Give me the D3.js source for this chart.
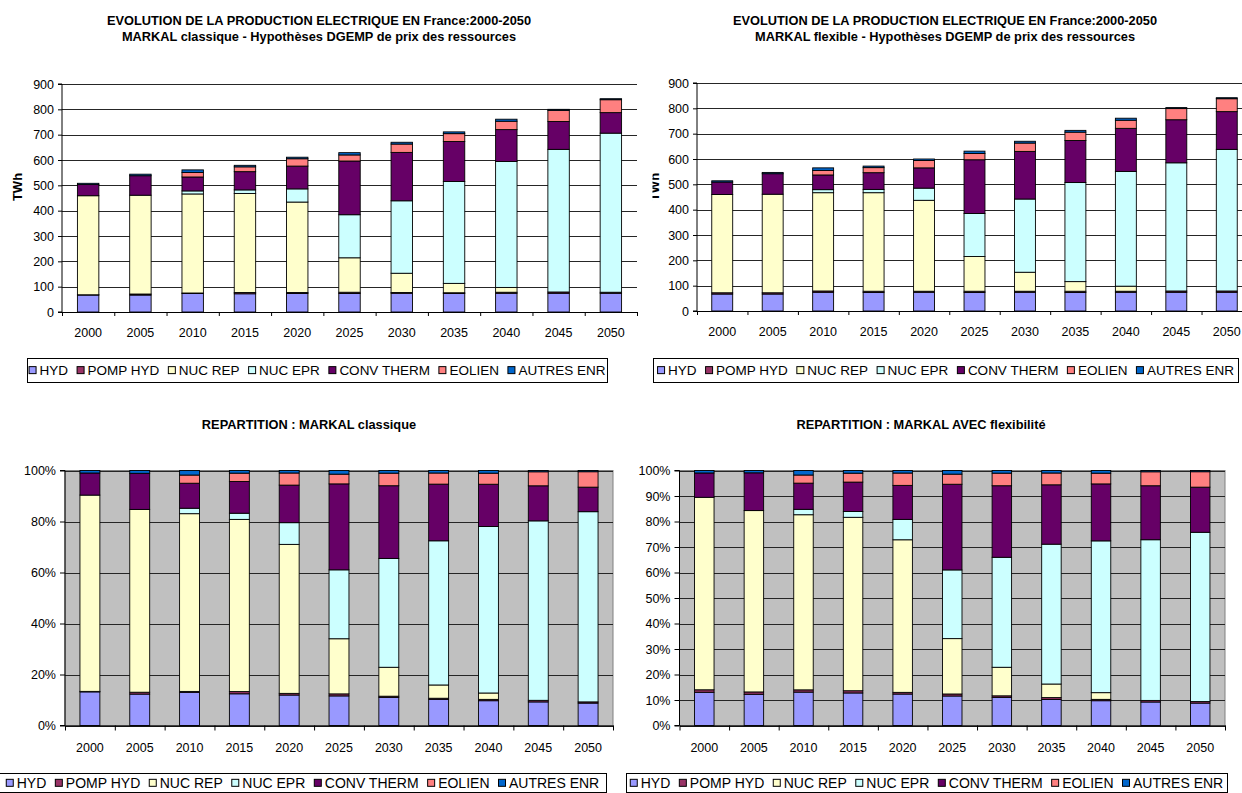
<!DOCTYPE html>
<html><head><meta charset="utf-8">
<script src="https://cdn.jsdelivr.net/npm/d3@7"></script>
<style>
body{margin:0;background:#fff}
svg{display:block}
text{font-family:"Liberation Sans",Arial,sans-serif;fill:#000}
</style>
</head><body>
<svg id="c" width="1242" height="793"></svg>
<script>
// ---------- DATA ----------
const years = ["2000","2005","2010","2015","2020","2025","2030","2035","2040","2045","2050"];
const seriesNames = ["HYD","POMP HYD","NUC REP","NUC EPR","CONV THERM","EOLIEN","AUTRES ENR"];
const seriesColors = ["#9999FF","#993366","#FFFFCC","#CCFFFF","#660066","#FF8080","#0066CC"];

// MARKAL classique (TWh)
const classiqueHYD    = [67, 67, 73, 72, 73, 73, 74, 73, 74, 74, 74];
const classiquePOMP   = [1, 4, 2, 5, 4, 5, 3, 3, 4, 5, 4];
const classiqueNUCREP = [391, 390, 391, 391, 357, 136, 76, 37, 19, 0, 0];
const classiqueNUCEPR = [0, 0, 12, 14, 52, 170, 286, 402, 497, 563, 628];
const classiqueCONV   = [44, 77, 55, 72, 90, 212, 191, 158, 126, 110, 81];
const classiqueEOL    = [0, 0, 18, 19, 29, 24, 33, 31, 33, 44, 51];
const classiqueAUTRES = [5, 6, 10, 6, 6, 9, 7, 7, 8, 4, 4];

// MARKAL flexible (TWh)
const flexibleHYD    = [67, 67, 74, 73, 74, 73, 74, 73, 74, 74, 74];
const flexiblePOMP   = [5, 5, 5, 5, 4, 5, 4, 5, 4, 5, 5];
const flexibleNUCREP = [388, 389, 388, 389, 359, 137, 75, 38, 20, 0, 0];
const flexibleNUCEPR = [0, 0, 12, 13, 48, 170, 289, 391, 453, 506, 559];
const flexibleCONV   = [49, 81, 58, 66, 80, 212, 188, 166, 170, 170, 149];
const flexibleEOL    = [0, 0, 18, 20, 29, 25, 33, 33, 32, 44, 51];
const flexibleAUTRES = [5, 5, 10, 6, 6, 9, 7, 7, 8, 4, 4];

const twhTicks = [0,100,200,300,400,500,600,700,800,900];
const pctTicks20 = [0,0.2,0.4,0.6,0.8,1];
const pctTicks10 = [0,0.1,0.2,0.3,0.4,0.5,0.6,0.7,0.8,0.9,1];

function buildTable(cols){
  return years.map((y,i)=>{
    const row = {year:y};
    seriesNames.forEach((s,j)=>{ row[s] = cols[j][i]; });
    return row;
  });
}
const tableClassique = buildTable([classiqueHYD,classiquePOMP,classiqueNUCREP,classiqueNUCEPR,classiqueCONV,classiqueEOL,classiqueAUTRES]);
const tableFlexible  = buildTable([flexibleHYD,flexiblePOMP,flexibleNUCREP,flexibleNUCEPR,flexibleCONV,flexibleEOL,flexibleAUTRES]);

// ---------- DRAW ----------
const svg = d3.select("#c");
const defs = svg.append("defs");
defs.append("clipPath").attr("id","clipTR").append("rect")
  .attr("x",652.5).attr("y",0).attr("width",600).attr("height",793);

function drawChart(g, o){
  const x = d3.scaleBand().domain(years).range([o.x0,o.x1]).paddingInner(o.pad).paddingOuter(o.pad/2);
  const y = d3.scaleLinear().domain(o.domain).range([o.yb,o.yt]);
  const stack = d3.stack().keys(seriesNames);
  if(o.percent) stack.offset(d3.stackOffsetExpand);
  const layers = stack(o.data);

  if(o.gray){
    g.append("rect").attr("x",o.x0).attr("y",o.yt).attr("width",o.x1-o.x0).attr("height",o.yb-o.yt)
      .attr("fill","#C0C0C0").attr("stroke","#808080").attr("stroke-width",1);
  }
  // gridlines
  g.append("g").attr("transform",`translate(${o.x0},0)`)
    .call(d3.axisLeft(y).tickValues(o.ticks).tickSize(-(o.x1-o.x0)).tickFormat(""))
    .call(a=>a.select(".domain").remove())
    .call(a=>a.selectAll("line").attr("stroke","#262626").attr("shape-rendering","crispEdges"));

  // bars
  g.append("g").selectAll("g").data(layers).join("g")
    .attr("fill",(d,i)=>seriesColors[i])
    .selectAll("rect").data(d=>d).join("rect")
    .attr("x",d=>x(d.data.year))
    .attr("width",x.bandwidth())
    .attr("y",d=>y(d[1]))
    .attr("height",d=>Math.max(0,y(d[0])-y(d[1])))
    .attr("stroke","#000").attr("stroke-width",0.9);

  // y axis
  g.append("g").attr("transform",`translate(${o.x0},0)`)
    .call(d3.axisLeft(y).tickValues(o.ticks).tickSize(o.tick).tickPadding(o.tickPad).tickFormat(o.fmt))
    .call(a=>a.select(".domain").attr("stroke","#000").attr("d",`M${-o.tick},${o.yb}H0V${o.yt}H${-o.tick}`))
    .call(a=>a.selectAll("line").attr("stroke","#000"))
    .call(a=>a.selectAll("text").attr("font-size",o.fs).attr("font-family",'"Liberation Sans",Arial,sans-serif'));

  // x axis: boundary ticks
  const xi = d3.scaleLinear().domain([0,years.length]).range([o.x0,o.x1]);
  g.append("g").attr("transform",`translate(0,${o.yb})`)
    .call(d3.axisBottom(xi).tickValues(d3.range(years.length+1)).tickSize(o.tick).tickSizeOuter(0).tickFormat(""))
    .call(a=>a.selectAll("line,path").attr("stroke","#000"));
  // x labels
  g.append("g").attr("transform",`translate(0,${o.yb})`)
    .call(d3.axisBottom(x).tickSize(0).tickPadding(o.xPad))
    .call(a=>a.select(".domain").remove())
    .call(a=>a.selectAll("text").attr("font-size",o.fs).attr("font-family",'"Liberation Sans",Arial,sans-serif'));

  if(o.ylabel){
    g.append("text").attr("transform",`translate(${o.ylabelX},${o.ylabelY}) rotate(-90)`)
      .attr("text-anchor","middle").attr("dy","0.35em").attr("font-weight","bold").attr("font-size",13)
      .text(o.ylabel);
  }
}

function drawTitle(lines, cx, ys, fs){
  lines.forEach((t,i)=>{
    svg.append("text").attr("x",cx).attr("y",ys[i]).attr("text-anchor","middle")
      .attr("font-weight","bold").attr("font-size",fs).text(t);
  });
}

function drawLegend(box, fs, baseline){
  const g = svg.append("g");
  g.append("rect").attr("x",box.x+0.5).attr("y",box.y+0.5).attr("width",box.w).attr("height",box.h)
    .attr("fill","#fff").attr("stroke","#000").attr("stroke-width",1);
  const items = g.selectAll("g.it").data(seriesNames).join("g").attr("class","it");
  items.append("rect").attr("width",7).attr("height",7)
    .attr("fill",(d,i)=>seriesColors[i]).attr("stroke","#000").attr("stroke-width",1);
  items.append("text").attr("font-size",fs).text(d=>d);
  const widths = [];
  items.select("text").each(function(){ widths.push(this.getComputedTextLength()); });
  const sq = 8, gapT = 3, gapI = 8.5;
  const total = d3.sum(widths)+widths.length*(sq+gapT)+gapI*(widths.length-1);
  let cx = box.x + (box.w-total)/2;
  items.each(function(d,i){
    const it = d3.select(this);
    it.select("rect").attr("x",cx+0.5).attr("y",baseline-fs*0.62);
    it.select("text").attr("x",cx+sq+gapT).attr("y",baseline);
    cx += sq+gapT+widths[i]+gapI;
  });
}

// Titles
drawTitle(["EVOLUTION DE LA PRODUCTION ELECTRIQUE EN France:2000-2050",
           "MARKAL classique - Hypothèses DGEMP de prix des ressources"],319,[25,40.5],12.8);
drawTitle(["EVOLUTION DE LA PRODUCTION ELECTRIQUE EN France:2000-2050",
           "MARKAL flexible - Hypothèses DGEMP de prix des ressources"],945,[25,40.5],12.8);
drawTitle(["REPARTITION : MARKAL classique"],309,[429],12.8);
drawTitle(["REPARTITION : MARKAL AVEC flexibilité"],921,[429],12.8);

// Top-left
drawChart(svg.append("g"),{
  data:tableClassique, x0:62, x1:637, yt:84, yb:312, pad:0.59, domain:[0,900], ticks:twhTicks,
  fmt:d3.format("d"), tick:4, tickPad:4, fs:12.5, xPad:16, ylabel:"TWh", ylabelX:17, ylabelY:187
});
// Top-right (clipped on the left, as in the original)
drawChart(svg.append("g").attr("clip-path","url(#clipTR)"),{
  data:tableFlexible, x0:697, x1:1252, yt:83, yb:311, pad:0.585, domain:[0,900], ticks:twhTicks,
  fmt:d3.format("d"), tick:4, tickPad:4, fs:12.5, xPad:16, ylabel:"TWh", ylabelX:654.5, ylabelY:187
});
// Bottom-left
drawChart(svg.append("g"),{
  data:tableClassique, percent:true, gray:true, x0:65, x1:613, yt:470.5, yb:725.5, pad:0.6,
  domain:[0,1], ticks:pctTicks20, fmt:d3.format(".0%"), tick:5, tickPad:4, fs:12.5, xPad:17.5
});
// Bottom-right
drawChart(svg.append("g"),{
  data:tableFlexible, percent:true, gray:true, x0:679.5, x1:1225, yt:470.5, yb:725.5, pad:0.607,
  domain:[0,1], ticks:pctTicks10, fmt:d3.format(".0%"), tick:5, tickPad:4, fs:12.5, xPad:17.5
});

// Legends
drawLegend({x:27,y:358,w:580,h:24},13.5,375);
drawLegend({x:653,y:358,w:585,h:24},13.5,375);
drawLegend({x:-1,y:773,w:607,h:19},14,788);
drawLegend({x:626,y:773,w:601,h:19},14,788);
</script>
</body></html>
